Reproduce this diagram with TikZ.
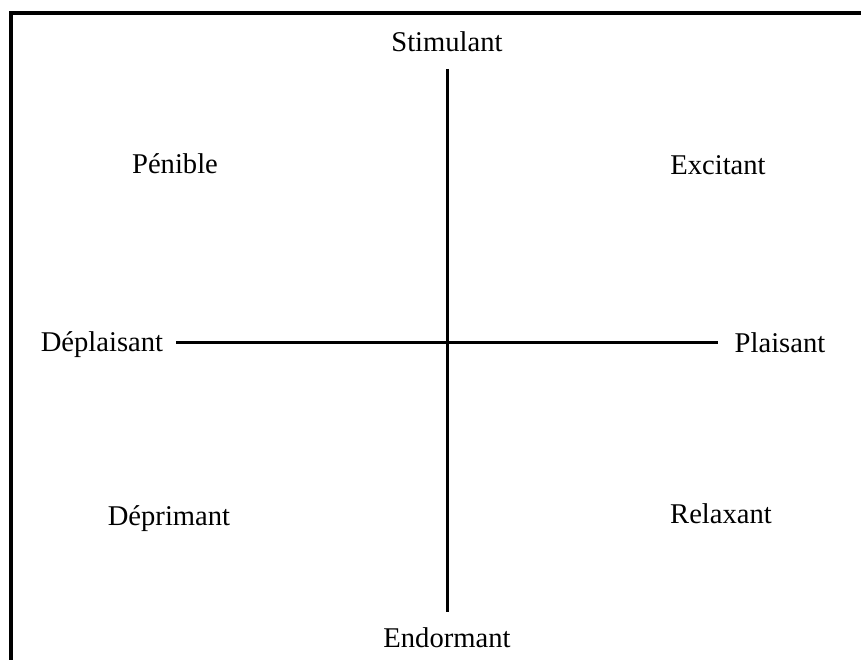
\documentclass[tikz,border=0pt]{standalone}
\usepackage{fontspec}
\setmainfont{Liberation Serif}
\begin{document}
\begin{tikzpicture}[x=1pt,y=-1pt,
  lbl/.style={anchor=base,inner sep=0pt,font=\fontsize{28.6}{34}\selectfont},
  axis/.style={line width=3pt},
  frame/.style={line width=4pt,line join=miter}]
\useasboundingbox (0,0) rectangle (861,660);
\draw[frame] (11,662) -- (11,13) -- (863,13);
% labels
\node[lbl] (stim) at (447,52) {Stimulant};
\node[lbl] (endo) at (447,647) {Endormant};
\node[lbl] (peni) at (175,174) {Pénible};
\node[lbl] (exci) at (718,175) {Excitant};
\node[lbl] (depl) at (102,351) {Déplaisant};
\node[lbl] (plai) at (780,352) {Plaisant};
\node[lbl] (depr) at (169,525) {Déprimant};
\node[lbl] (rela) at (721,523) {Relaxant};
% axes
\coordinate (top) at (447,69);
\coordinate (bot) at (447,612);
\coordinate (lft) at (176,342);
\coordinate (rgt) at (718,342);
\draw[axis] (top) -- (bot);
\draw[axis] (lft) -- (rgt);
\end{tikzpicture}
\end{document}
